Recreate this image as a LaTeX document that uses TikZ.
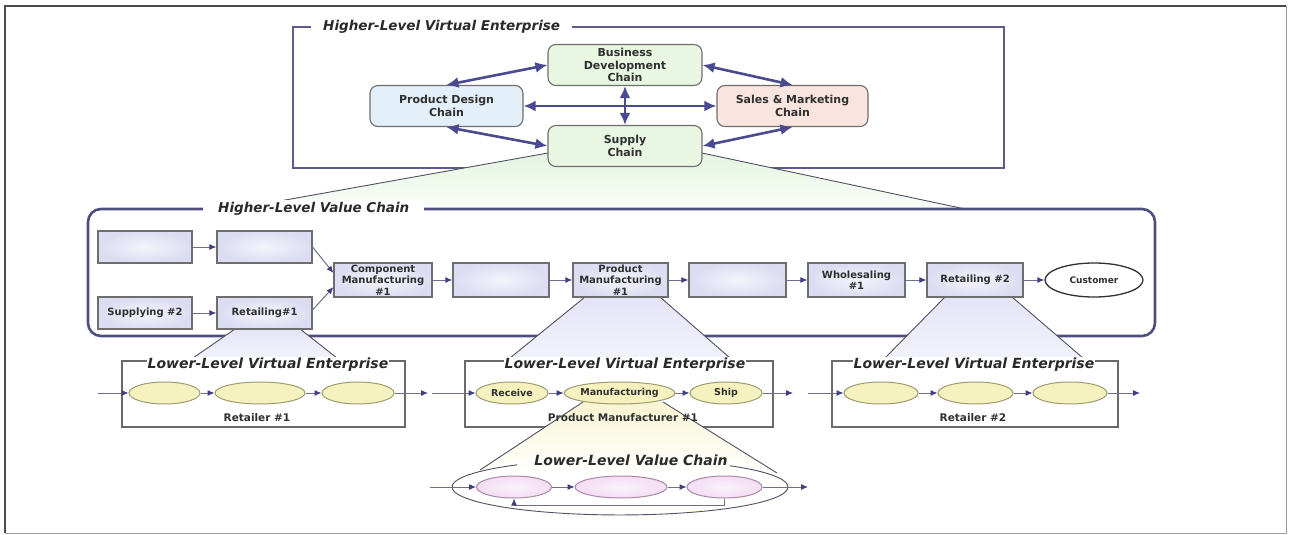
\documentclass[tikz,border=0pt]{standalone}
\usepackage{fontspec}
\setmainfont{DejaVu Sans}[BoldFont={DejaVu Sans Bold},ItalicFont={DejaVu Sans Oblique},BoldItalicFont={DejaVu Sans Bold Oblique}]
\usetikzlibrary{arrows.meta,shapes.geometric,calc}
\definecolor{framedark}{HTML}{4A4A4A}
\definecolor{framelight}{HTML}{A0A0A0}
\definecolor{hlveblue}{HTML}{5C5C8C}
\definecolor{hlvcblue}{HTML}{4E4E7E}
\definecolor{arrblue}{HTML}{4A4A90}
\definecolor{nodegray}{HTML}{6E6E6E}
\definecolor{txt}{HTML}{303030}
\definecolor{bdgreen}{HTML}{E8F6E2}
\definecolor{pdblue}{HTML}{E4F0F9}
\definecolor{smpink}{HTML}{FAE4DF}
\definecolor{lav}{HTML}{DCDCF2}
\definecolor{lavin}{HTML}{F4F4FD}
\definecolor{linegray}{HTML}{6E6E92}
\definecolor{arrdark}{HTML}{3E3E80}
\definecolor{yell}{HTML}{F6F2C0}
\definecolor{yellborder}{HTML}{9C9C70}
\definecolor{pinkf}{HTML}{F4DDF4}
\definecolor{pinkborder}{HTML}{A88AA8}
\definecolor{boxline}{HTML}{6A6A6A}
\definecolor{funnelgreen}{HTML}{E4F5E0}
\definecolor{funnellav}{HTML}{E4E4F7}
\definecolor{funnelyel}{HTML}{F8F5D2}
\definecolor{funline}{HTML}{505062}
\definecolor{titletxt}{HTML}{2A2A2A}
\begin{document}
\begin{tikzpicture}[x=1pt,y=-1pt,
  hlnode/.style={draw=nodegray, line width=1.1pt, rounded corners=8pt, minimum width=154pt, minimum height=41pt, align=center, font=\fontsize{11}{12.5}\selectfont\bfseries, text=txt, inner sep=1pt},
  vcbox/.style={draw=nodegray, line width=1.1pt, inner color=lavin, outer color=lav, minimum height=32pt, align=center, font=\fontsize{10}{11.5}\selectfont\bfseries, text=txt, inner xsep=1pt, inner ysep=0pt},
  bigarr/.style={{Latex[length=12pt,width=11pt]}-{Latex[length=12pt,width=11pt]}, line width=2.6pt, draw=arrblue},
  smarr/.style={-{Latex[length=7pt,width=6pt,color=arrdark]}, line width=1pt, draw=linegray},
  yellell/.style={ellipse, draw=yellborder, line width=1pt, fill=yell, minimum height=22pt, inner sep=0pt, font=\fontsize{9.5}{11}\selectfont\bfseries, text=txt},
  pinkell/.style={ellipse, draw=pinkborder, line width=1pt, inner color=white!60!pinkf, outer color=pinkf, minimum height=22pt, inner sep=0pt},
  llbox/.style={draw=boxline, line width=1.4pt, inner sep=0pt},
  hltitle/.style={font=\fontsize{13.5}{15}\selectfont\bfseries\itshape, text=titletxt, inner ysep=2pt},
  lltitle/.style={font=\fontsize{14}{16}\selectfont\bfseries\itshape, text=titletxt, inner sep=1pt},
  lbl/.style={font=\fontsize{10.5}{12}\selectfont\bfseries, text=txt, inner sep=1pt},
  funnel/.style={draw=funline, line width=0.9pt}
]
\useasboundingbox (0,0) rectangle (1291,535);
% outer frame
\draw[framedark, line width=2.6pt] (5,533) -- (5,6) -- (1286,6);
\draw[framelight, line width=1pt] (1286,6) -- (1286,533) -- (5,533);

% higher-level virtual enterprise frame
\draw[hlveblue, line width=1.8pt] (293,27) rectangle (1004,168);

% green funnel
\coordinate (gfl) at (548,153);
\coordinate (gfr) at (702,153);
\coordinate (gbl) at (235,209);
\coordinate (gbr) at (965,209);
\shade[top color=funnelgreen, bottom color=white!85!funnelgreen] (gfl) -- (gbl) -- (gbr) -- (gfr) -- cycle;
\draw[funnel] (gfl) -- (gbl) (gfr) -- (gbr);

% HLVE nodes
\node[hlnode, fill=bdgreen] (bd) at (625,65) {Business\\Development\\Chain};
\node[hlnode, fill=pdblue, minimum width=153pt] (pd) at (446.5,106) {Product Design\\Chain};
\node[hlnode, fill=smpink, minimum width=151pt] (sm) at (792.5,106) {Sales \& Marketing\\Chain};
\node[hlnode, fill=bdgreen] (sc) at (625,146) {Supply\\Chain};

\draw[bigarr] (pd.north) -- (bd.west);
\draw[bigarr] (bd.east) -- (sm.north);
\draw[bigarr] (pd.east) -- (sm.west);
\draw[bigarr] (bd.south) -- (sc.north);
\draw[bigarr] (pd.south) -- (sc.west);
\draw[bigarr] (sc.east) -- (sm.south);

\node[hltitle, anchor=west, fill=white, inner xsep=12pt] (hlvet) at (311,27) {Higher-Level Virtual Enterprise};

% higher-level value chain frame
\draw[hlvcblue, line width=2.6pt, rounded corners=13pt] (88,209) rectangle (1155,336);
\node[hltitle, anchor=west, fill=white, inner xsep=15pt] (hlvct) at (203,209) {Higher-Level Value Chain};

% lavender funnels
\shade[top color=funnellav, bottom color=white!55!funnellav] (235,329) -- (193,358) -- (337,358) -- (300,329) -- cycle;
\draw[funnel] (235,329) -- (193,358) (300,329) -- (337,358);
\shade[top color=funnellav, bottom color=white!55!funnellav] (585,297) -- (510,358) -- (730,358) -- (660,297) -- cycle;
\draw[funnel] (585,297) -- (510,358) (660,297) -- (730,358);
\shade[top color=funnellav, bottom color=white!55!funnellav] (945,297) -- (885,358) -- (1083,358) -- (1012,297) -- cycle;
\draw[funnel] (945,297) -- (885,358) (1012,297) -- (1083,358);

% HLVC boxes
\node[vcbox, minimum width=94pt] (a1) at (145,247) {};
\node[vcbox, minimum width=95pt] (a2) at (264.5,247) {};
\node[vcbox, minimum width=94pt] (sup2) at (145,313) {Supplying \#2};
\node[vcbox, minimum width=95pt] (ret1) at (264.5,313) {Retailing\#1};
\node[vcbox, minimum width=98pt, minimum height=34pt] (cm) at (383,280) {Component\\Manufacturing\\\#1};
\node[vcbox, minimum width=96pt, minimum height=34pt] (c1) at (501,280) {};
\node[vcbox, minimum width=95pt, minimum height=34pt] (pm) at (620.5,280) {Product\\Manufacturing\\\#1};
\node[vcbox, minimum width=97pt, minimum height=34pt] (d1) at (737.5,280) {};
\node[vcbox, minimum width=97pt, minimum height=34pt] (wh) at (856.5,280) {Wholesaling\\\#1};
\node[vcbox, minimum width=96pt, minimum height=34pt] (ret2) at (975,280) {Retailing \#2};
\node[ellipse, draw=txt, line width=1.3pt, fill=white, minimum width=98pt, minimum height=34pt, inner sep=0pt, font=\fontsize{9}{11}\selectfont\bfseries, text=txt] (cust) at (1094,280) {Customer};

\draw[smarr] (a1) -- (a2);
\draw[smarr] (sup2) -- (ret1);
\draw[smarr] (a2.east) -- ($(cm.west)+(0,-7)$);
\draw[smarr] ($(ret1.east)+(0,-3)$) -- ($(cm.west)+(0,7)$);
\draw[smarr] (cm) -- (c1);
\draw[smarr] (c1) -- (pm);
\draw[smarr] (pm) -- (d1);
\draw[smarr] (d1) -- (wh);
\draw[smarr] (wh) -- (ret2);
\draw[smarr] (ret2) -- (cust);

% lower-level virtual enterprise boxes
\node[llbox, minimum width=283pt, minimum height=66pt] (box1) at (263.5,394) {};
\node[llbox, minimum width=308pt, minimum height=66pt] (box2) at (619,394) {};
\node[llbox, minimum width=286pt, minimum height=66pt] (box3) at (975,394) {};

% yellow funnel to lower-level value chain
\shade[top color=funnelyel, bottom color=white] (583,402) -- (480,470) -- (777,473) -- (663,402) -- cycle;
\draw[funnel] (583,402) -- (480,470) (663,402) -- (777,473);

% ellipses
\node[yellell, minimum width=71pt] (e11) at (164.5,393) {};
\node[yellell, minimum width=90pt] (e12) at (260,393) {};
\node[yellell, minimum width=72pt] (e13) at (358,393) {};
\node[yellell, minimum width=72pt] (rcv) at (512,393) {Receive};
\node[yellell, minimum width=109pt] (mfg) at (619.5,393) {Manufacturing};
\node[yellell, minimum width=72pt] (shp) at (726,393) {Ship};
\node[yellell, minimum width=74pt] (e31) at (881,393) {};
\node[yellell, minimum width=75pt] (e32) at (975.5,393) {};
\node[yellell, minimum width=74pt] (e33) at (1070,393) {};

\coordinate (in1) at (98,393);
\coordinate (out1) at (428,393);
\coordinate (in2) at (432,393);
\coordinate (out2) at (793,393);
\coordinate (in3) at (808,393);
\coordinate (out3) at (1140,393);
\draw[smarr] (in1) -- (e11);
\draw[smarr] (e11) -- (e12);
\draw[smarr] (e12) -- (e13);
\draw[smarr] (e13) -- (out1);
\draw[smarr] (in2) -- (rcv);
\draw[smarr] (rcv) -- (mfg);
\draw[smarr] (mfg) -- (shp);
\draw[smarr] (shp) -- (out2);
\draw[smarr] (in3) -- (e31);
\draw[smarr] (e31) -- (e32);
\draw[smarr] (e32) -- (e33);
\draw[smarr] (e33) -- (out3);

\node[lltitle, fill=white] (t1) at (268,365) {Lower-Level Virtual Enterprise};
\node[lltitle, fill=white] (t2) at (625,365) {Lower-Level Virtual Enterprise};
\node[lltitle, fill=white] (t3) at (974,365) {Lower-Level Virtual Enterprise};
\node[lbl] (l1) at (257,418) {Retailer \#1};
\node[lbl] (l2) at (623,418) {Product Manufacturer \#1};
\node[lbl] (l3) at (973,418) {Retailer \#2};

% lower-level value chain
\draw[funnel] (730,465.8) arc[start angle=-49.1, end angle=232.2, x radius=168, y radius=28];
\node[pinkell, minimum width=75pt] (p1) at (514,487) {};
\node[pinkell, minimum width=92pt] (p2) at (621,487) {};
\node[pinkell, minimum width=75pt] (p3) at (724.5,487) {};
\coordinate (in4) at (430,487);
\coordinate (out4) at (808,487);
\draw[smarr] (in4) -- (p1);
\draw[smarr] (p1) -- (p2);
\draw[smarr] (p2) -- (p3);
\draw[smarr] (p3) -- (out4);
\draw[smarr] (p3.south) -- ++(0,7) -| (p1.south);
\node[lltitle] (lvct) at (631,460) {Lower-Level Value Chain};
\end{tikzpicture}
\end{document}
